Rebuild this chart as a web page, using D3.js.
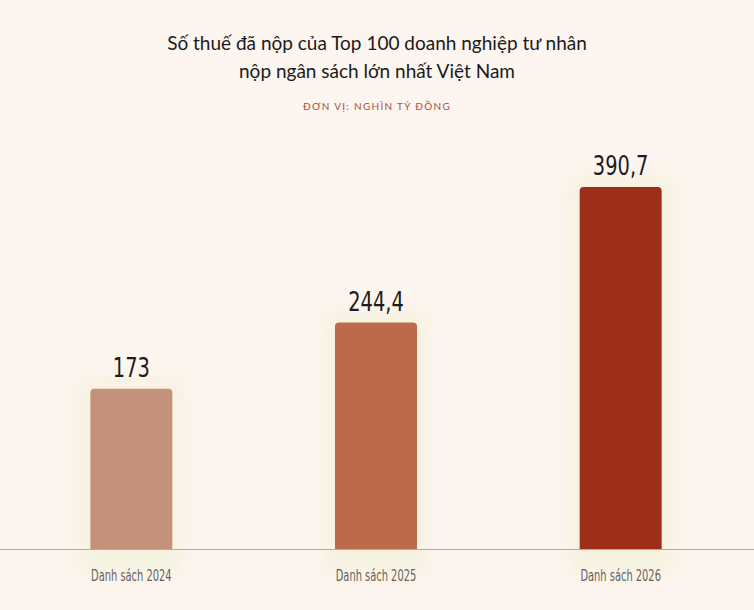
<!DOCTYPE html>
<html>
<head>
<meta charset="utf-8">
<title>Số thuế Top 100</title>
<style>
  body { margin: 0; background: #fdf5ef; }
  svg { display: block; }
  .title { font-family: "Lato", "Open Sans", sans-serif; font-size: 19px; fill: #1a1a1a; }
  .unit { font-family: "Lato", "Open Sans", sans-serif; font-size: 10px; letter-spacing: 1.3px; fill: #b04f35; }
  .val { font-family: "DejaVu Sans", sans-serif; font-size: 27px; fill: #1c1c1c; }
  .xlab { font-family: "DejaVu Sans", sans-serif; font-size: 15px; fill: #67625d; }
</style>
<script src="https://cdn.jsdelivr.net/npm/d3@7"></script>
</head>
<body>
<script>
var categories = ["Danh sách 2024", "Danh sách 2025", "Danh sách 2026"];
var values = [173, 244.4, 390.7];
var labels = ["173", "244,4", "390,7"];
var colors = ["#c4917a", "#bb6a4b", "#9d2e1a"];

var width = 754, height = 610;
var baseY = 549;

var svg = d3.select("body").append("svg")
  .attr("width", width)
  .attr("height", height);

svg.append("rect").attr("width", width).attr("height", height).attr("fill", "#fdf5ef");

var defs = svg.append("defs");
defs.append("filter").attr("id", "glow")
  .attr("x", "-50%").attr("y", "-50%").attr("width", "200%").attr("height", "200%")
  .append("feGaussianBlur").attr("stdDeviation", 9);

var x = d3.scaleBand()
  .domain(categories)
  .range([9, 743])
  .paddingInner(0.665)
  .paddingOuter(0.3325);

var y = d3.scaleLinear()
  .domain([0, 390.7])
  .range([baseY, 187]);

// titles
svg.append("text").attr("class", "title")
  .attr("x", width / 2).attr("y", 50).attr("text-anchor", "middle")
  .text("Số thuế đã nộp của Top 100 doanh nghiệp tư nhân");
svg.append("text").attr("class", "title")
  .attr("x", width / 2).attr("y", 78).attr("text-anchor", "middle")
  .text("nộp ngân sách lớn nhất Việt Nam");
svg.append("text").attr("class", "unit")
  .attr("x", width / 2).attr("y", 110).attr("text-anchor", "middle")
  .text("ĐƠN VỊ: NGHÌN TỶ ĐỒNG");

var g = svg.append("g");

// soft glow behind bars
g.selectAll(".glow")
  .data(values)
  .enter().append("rect")
    .attr("class", "glow")
    .attr("x", function(d, i) { return x(categories[i]) - 10; })
    .attr("y", function(d) { return y(d) - 10; })
    .attr("width", x.bandwidth() + 20)
    .attr("height", function(d) { return baseY - y(d) + 35; })
    .attr("fill", "#f1f0d6")
    .attr("opacity", 0.6)
    .attr("filter", "url(#glow)");

function barPath(x0, y0, w, h, r) {
  return "M" + x0 + "," + (y0 + h) +
    "V" + (y0 + r) +
    "Q" + x0 + "," + y0 + " " + (x0 + r) + "," + y0 +
    "H" + (x0 + w - r) +
    "Q" + (x0 + w) + "," + y0 + " " + (x0 + w) + "," + (y0 + r) +
    "V" + (y0 + h) + "Z";
}

g.selectAll(".bar")
  .data(values)
  .enter().append("path")
    .attr("class", "bar")
    .attr("d", function(d, i) {
      return barPath(x(categories[i]), y(d), x.bandwidth(), baseY - y(d), 4);
    })
    .attr("fill", function(d, i) { return colors[i]; });

// condensed look: squeeze text horizontally
g.selectAll(".val")
  .data(values)
  .enter().append("text")
    .attr("class", "val")
    .attr("transform", function(d, i) {
      return "translate(" + (x(categories[i]) + x.bandwidth() / 2) + "," + (y(d) - 12) + ") scale(0.72,1)";
    })
    .attr("text-anchor", "middle")
    .text(function(d, i) { return labels[i]; });

// baseline
svg.append("line")
  .attr("x1", 0).attr("x2", width)
  .attr("y1", baseY + 0.5).attr("y2", baseY + 0.5)
  .attr("stroke", "#b3aaa6").attr("stroke-width", 1);

svg.selectAll(".xlab")
  .data(categories)
  .enter().append("text")
    .attr("class", "xlab")
    .attr("transform", function(d) {
      return "translate(" + (x(d) + x.bandwidth() / 2) + ",581) scale(0.66,1)";
    })
    .attr("text-anchor", "middle")
    .text(function(d) { return d; });
</script>
</body>
</html>
